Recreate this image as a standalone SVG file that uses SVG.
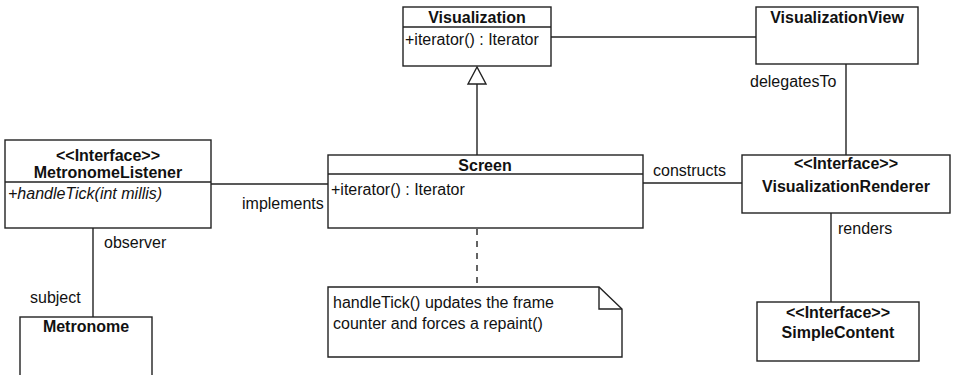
<svg xmlns="http://www.w3.org/2000/svg" width="961" height="375" viewBox="0 0 961 375">
  <style>
    .box { fill: #fff; stroke: #222; stroke-width: 1.4; }
    .line { fill: none; stroke: #222; stroke-width: 1.4; }
    .dash { fill: none; stroke: #222; stroke-width: 1.4; stroke-dasharray: 6 6; }
    text { font-family: "Liberation Sans", Arial, sans-serif; font-size: 16px; fill: #111; }
    .title { font-weight: bold; text-anchor: middle; }
    .op { font-style: italic; }
  </style>

  <rect width="961" height="375" fill="#fff"/>

  <!-- connectors -->
  <g id="connectors">
    <line class="line" x1="551" y1="37" x2="756" y2="37"/>
    <text x="750" y="87">delegatesTo</text>
    <line class="line" x1="846" y1="64" x2="846" y2="155"/>
    <!-- generalization Screen -> Visualization -->
    <path class="line" d="M477,155 L477,84"/>
    <path d="M477,67 L468,84 L486,84 Z" fill="#fff" stroke="#222" stroke-width="1.4"/>
    <line class="line" x1="211" y1="184" x2="328" y2="184"/>
    <text x="242" y="209">implements</text>
    <line class="line" x1="643" y1="183" x2="742" y2="183"/>
    <text x="653" y="176">constructs</text>
    <line class="line" x1="831" y1="213" x2="831" y2="302"/>
    <text x="838" y="234">renders</text>
    <line class="line" x1="93" y1="228" x2="93" y2="317"/>
    <text x="104" y="248">observer</text>
    <text x="30" y="303">subject</text>
    <line class="dash" x1="477" y1="229" x2="477" y2="287"/>
  </g>

  <!-- Visualization -->
  <g id="visualization">
    <rect class="box" x="403" y="7" width="148" height="59"/>
    <line class="line" x1="403" y1="27" x2="551" y2="27"/>
    <text class="title" x="477" y="23">Visualization</text>
    <text x="405" y="45">+iterator() : Iterator</text>
  </g>

  <!-- VisualizationView -->
  <g id="visualization-view">
    <rect class="box" x="756" y="7" width="162" height="57"/>
    <text class="title" x="837" y="23">VisualizationView</text>
  </g>

  <!-- MetronomeListener -->
  <g id="metronome-listener">
    <rect class="box" x="5" y="140" width="206" height="88"/>
    <line class="line" x1="5" y1="182" x2="211" y2="182"/>
    <text class="title" x="108" y="161">&lt;&lt;Interface&gt;&gt;</text>
    <text class="title" x="108" y="178">MetronomeListener</text>
    <text class="op" x="8" y="199">+handleTick(int millis)</text>
  </g>

  <!-- Screen -->
  <g id="screen">
    <rect class="box" x="328" y="155" width="315" height="73"/>
    <line class="line" x1="328" y1="174" x2="643" y2="174"/>
    <text class="title" x="485" y="171">Screen</text>
    <text x="331" y="195">+iterator() : Iterator</text>
  </g>

  <!-- VisualizationRenderer -->
  <g id="visualization-renderer">
    <rect class="box" x="742" y="155" width="208" height="58"/>
    <text class="title" x="846" y="169">&lt;&lt;Interface&gt;&gt;</text>
    <text class="title" x="846" y="192">VisualizationRenderer</text>
  </g>

  <!-- SimpleContent -->
  <g id="simple-content">
    <rect class="box" x="757" y="302" width="162" height="59"/>
    <text class="title" x="838" y="318">&lt;&lt;Interface&gt;&gt;</text>
    <text class="title" x="838" y="338">SimpleContent</text>
  </g>

  <!-- Metronome -->
  <g id="metronome">
    <rect class="box" x="20" y="317" width="132" height="70"/>
    <text class="title" x="86" y="332">Metronome</text>
  </g>

  <!-- note -->
  <g id="note">
    <path class="box" d="M328,287 L599,287 L622,309 L622,357 L328,357 Z"/>
    <path class="line" d="M599,287 L599,309 L622,309"/>
    <text x="333" y="308">handleTick() updates the frame</text>
    <text x="333" y="329">counter and forces a repaint()</text>
  </g>
</svg>
